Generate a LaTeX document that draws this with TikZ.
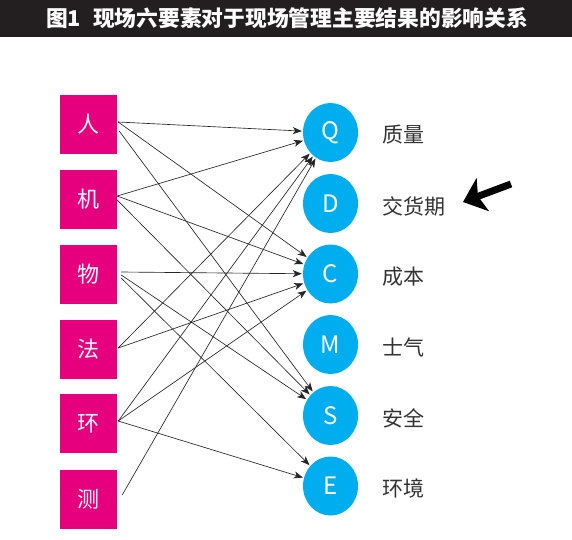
\documentclass[tikz,border=0pt]{standalone}
\usepackage{fontspec}
\setmainfont{Noto Sans CJK SC}
\usetikzlibrary{arrows.meta,shapes.geometric}
\definecolor{mag}{HTML}{E6007E}
\definecolor{cya}{HTML}{00AEEF}
\definecolor{bar}{HTML}{231F20}
\definecolor{txt}{HTML}{333333}
\begin{document}
\begin{tikzpicture}[x=1pt,y=-1pt,
  factor/.style={rectangle, fill=mag, minimum width=57pt, minimum height=59pt, inner sep=0pt, text=white, font=\fontsize{22}{22}\selectfont},
  result/.style={ellipse, fill=cya, minimum width=55pt, minimum height=59pt, inner sep=0pt, text=white, font=\fontsize{24}{24}\selectfont},
  lbl/.style={anchor=west, inner sep=0pt, text=txt, font=\fontsize{21}{21}\selectfont},
  conn/.style={draw=black!85, line width=0.65pt, -{Stealth[length=9pt,width=7pt,inset=2.5pt]}, shorten >=1pt},
  bigarrow/.style={draw=black, line width=7pt, -{Stealth[length=21pt,width=35pt,inset=5pt]}},
]
\useasboundingbox (0,0) rectangle (572,539);
\fill[white] (0,0) rectangle (572,539);
\fill[bar] (0,0) rectangle (572,37);
\node[anchor=west, text=white, font=\bfseries\fontsize{21.75}{21.75}\selectfont, inner sep=0pt] (title) at (46,18.5) {图1\hspace{12pt}现场六要素对于现场管理主要结果的影响关系};

% factors
\node[factor] (ren) at (88.5,124.5) {人};
\node[factor] (ji) at (88.5,199) {机};
\node[factor] (wu) at (88.5,274) {物};
\node[factor] (fa) at (88.5,349) {法};
\node[factor] (huan) at (88.5,423.5) {环};
\node[factor] (ce) at (88.5,499) {测};

% results
\node[result] (Q) at (330.5,132.5) {Q};
\node[result] (D) at (330.5,203.5) {D};
\node[result] (C) at (330.5,274) {C};
\node[result] (M) at (330.5,344.5) {M};
\node[result] (S) at (330.5,415.5) {S};
\node[result] (E) at (330.5,486) {E};

\node[lbl] (lQ) at (382,135) {质量};
\node[lbl] (lD) at (382,206) {交货期};
\node[lbl] (lC) at (382,276.5) {成本};
\node[lbl] (lM) at (382,347) {士气};
\node[lbl] (lS) at (382,418) {安全};
\node[lbl] (lE) at (382,488.5) {环境};

% connectors
\draw[conn] ([shift={(1,-2.5)}]ren.east) -- (Q);
\draw[conn] ([shift={(1,-2.5)}]ren.east) -- (C);
\draw[conn] ([shift={(2,6.5)}]ren.east) -- (S);
\draw[conn] ([shift={(0,-3)}]ji.east) -- (Q);
\draw[conn] ([shift={(0,-3)}]ji.east) -- (C);
\draw[conn] ([shift={(0,1)}]ji.east) -- (S);
\draw[conn] ([shift={(4,-2)}]wu.east) -- (C);
\draw[conn] ([shift={(4,1)}]wu.east) -- (S);
\draw[conn] ([shift={(4,4)}]wu.east) -- (E);
\draw[conn] ([shift={(1,-1)}]fa.east) -- (Q);
\draw[conn] ([shift={(1,-1)}]fa.east) -- (C);
\draw[conn] ([shift={(1,-2.5)}]huan.east) -- (Q);
\draw[conn] ([shift={(1,-2.5)}]huan.east) -- (C);
\draw[conn] ([shift={(1,-2.5)}]huan.east) -- (E);
\draw[conn] ([shift={(5,-4)}]ce.east) -- (Q);

% pointer arrow
\coordinate (atail) at (511,184);
\coordinate (atip) at (463,202);
\draw[bigarrow] (atail) -- (atip);
\end{tikzpicture}
\end{document}
